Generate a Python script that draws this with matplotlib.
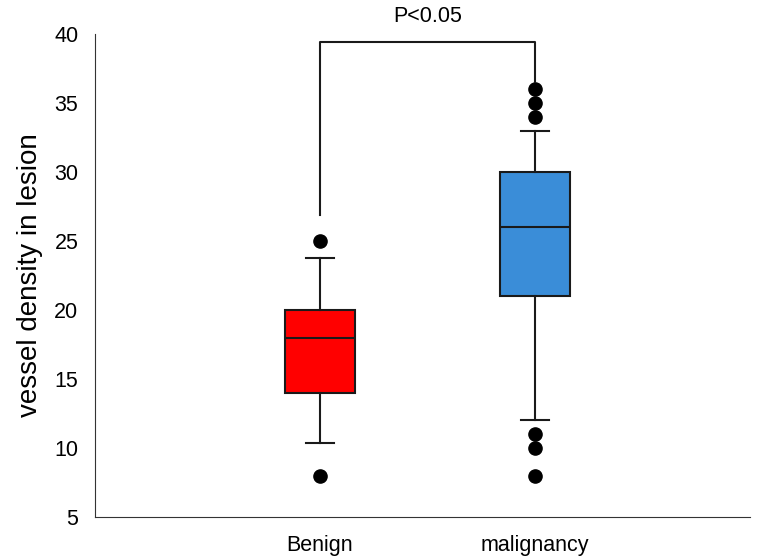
import matplotlib.pyplot as plt

plt.rcParams['font.family'] = ['Liberation Sans', 'DejaVu Sans']

# box statistics
groups = ['Benign', 'malignancy']
q1 = [14, 21]
med = [18, 26]
q3 = [20, 30]
whislo = [10.4, 12]
whishi = [23.8, 33]
fliers = [[25, 8], [36, 35, 34, 11, 10, 8]]
colors = ['#ff0000', '#3a8dd8']

stats = []
for i in range(len(groups)):
    stats.append({'label': groups[i], 'q1': q1[i], 'med': med[i], 'q3': q3[i],
                  'whislo': whislo[i], 'whishi': whishi[i], 'fliers': fliers[i]})

fig = plt.figure(figsize=(7.58, 5.59), dpi=100)
ax = fig.add_axes([0.1253, 0.0751, 0.8637, 0.8640])

bp = ax.bxp(stats, positions=[1, 2], widths=0.326, capwidths=0.13, patch_artist=True,
            boxprops=dict(linewidth=1.5, edgecolor='#1a1a1a'),
            medianprops=dict(color='#1a1a1a', linewidth=1.5),
            whiskerprops=dict(color='#1a1a1a', linewidth=1.5),
            capprops=dict(color='#1a1a1a', linewidth=1.5),
            flierprops=dict(marker='o', markerfacecolor='black', markeredgecolor='black', markersize=9.5))
for patch, c in zip(bp['boxes'], colors):
    patch.set_facecolor(c)

# significance bracket
ax.plot([1, 1, 2, 2], [26.9, 39.4, 39.4, 36.5], color='#1a1a1a', linewidth=1.5, clip_on=False)
ax.text(1.5, 41.3, 'P<0.05', ha='center', va='center', fontsize=15.5)

ax.set_xlim(-0.047, 3.0)
ax.set_ylim(5, 40)
ax.set_yticks(range(5, 41, 5))
ax.tick_params(length=0, labelsize=15.5)
ax.tick_params(axis='y', pad=12)
ax.tick_params(axis='x', pad=13)
ax.spines['top'].set_visible(False)
ax.spines['right'].set_visible(False)
for s in ['left', 'bottom']:
    ax.spines[s].set_color('#333333')
ax.set_ylabel('vessel density in lesion', fontsize=20, labelpad=8)

fig.savefig('out.png', dpi=100)
